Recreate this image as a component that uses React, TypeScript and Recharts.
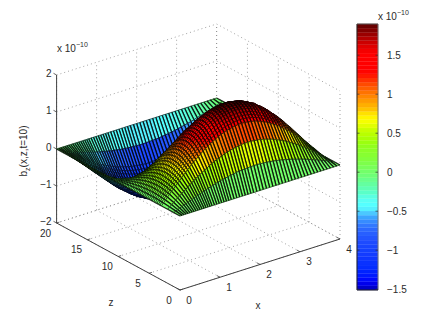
import { ComposedChart, Line, XAxis, YAxis, Scatter, ReferenceArea, ReferenceLine } from 'recharts';

// surface samples, b_z in units of 1e-10 = zPeak[j] * xProfile[i]
const xValues = [0, 0.05, 0.1, 0.15, 0.2, 0.25, 0.3, 0.35, 0.4, 0.45, 0.5, 0.55, 0.6, 0.65, 0.7, 0.75, 0.8, 0.86, 0.92, 0.98, 1.04, 1.1, 1.16, 1.22, 1.28, 1.35, 1.42, 1.49, 1.56, 1.63, 1.7, 1.77, 1.84, 1.92, 2, 2.08, 2.16, 2.24, 2.32, 2.4, 2.48, 2.56, 2.64, 2.72, 2.8, 2.88, 2.96, 3.04, 3.12, 3.2, 3.28, 3.36, 3.44, 3.52, 3.6, 3.68, 3.76, 3.84, 3.92, 4];
const xProfile = [0, 0.04, 0.08, 0.12, 0.16, 0.2, 0.23, 0.27, 0.31, 0.34, 0.38, 0.42, 0.45, 0.49, 0.52, 0.56, 0.59, 0.62, 0.66, 0.69, 0.73, 0.76, 0.79, 0.82, 0.84, 0.87, 0.9, 0.92, 0.94, 0.96, 0.97, 0.98, 0.99, 1, 1, 1, 0.99, 0.98, 0.97, 0.95, 0.93, 0.9, 0.88, 0.84, 0.81, 0.77, 0.73, 0.68, 0.64, 0.59, 0.54, 0.48, 0.43, 0.37, 0.31, 0.25, 0.19, 0.13, 0.06, 0];
const zValues = [0, 1, 2, 3, 3.25, 3.5, 3.75, 4, 4.25, 4.5, 4.75, 5, 5.25, 5.5, 5.75, 6, 6.25, 6.5, 6.75, 7, 7.25, 7.5, 7.75, 8, 8.25, 8.5, 8.75, 9, 9.25, 9.5, 9.75, 10, 10.25, 10.5, 10.75, 11, 11.25, 11.5, 11.75, 12, 12.25, 12.5, 12.75, 13, 13.25, 13.5, 13.75, 14, 14.25, 14.5, 14.75, 15, 15.25, 15.5, 15.75, 16, 16.25, 16.5, 16.75, 17, 17.25, 17.5, 17.75, 18, 19, 20];
const zPeak = [0, 0.58, 1.12, 1.54, 1.62, 1.68, 1.74, 1.8, 1.84, 1.87, 1.89, 1.9, 1.89, 1.87, 1.84, 1.8, 1.74, 1.68, 1.62, 1.54, 1.45, 1.34, 1.24, 1.12, 0.99, 0.86, 0.73, 0.58, 0.44, 0.3, 0.15, 0, -0.12, -0.24, -0.35, -0.46, -0.57, -0.68, -0.78, -0.88, -0.97, -1.05, -1.14, -1.21, -1.27, -1.33, -1.38, -1.42, -1.45, -1.48, -1.49, -1.5, -1.49, -1.48, -1.45, -1.42, -1.38, -1.33, -1.27, -1.21, -1.14, -1.05, -0.97, -0.88, -0.46, 0];

const xTicks = [0, 1, 2, 3, 4];
const zTicks = [0, 5, 10, 15, 20];
const bTicks = [-2, -1, 0, 1, 2];
const barTicks = [-1.5, -1, -0.5, 0, 0.5, 1, 1.5];
const colorMin = -1.51;
const colorMax = 1.9;

// 64 levels of the colour bar, bottom to top
const levels = [
  '#0000c8', '#0000eb', '#000aff', '#0019ff', '#0023ff', '#052dff', '#0a32ff', '#0f37ff',
  '#143cff', '#1441ff', '#1946ff', '#1e4bff', '#2355ff', '#285fff', '#2d69ff', '#3278ff',
  '#378cff', '#3ca5ff', '#4bc8ff', '#55f0ff', '#55ffff', '#5afff5', '#5affe1', '#5affc8',
  '#5fffb4', '#64ffa0', '#69ff8c', '#6eff78', '#73ff69', '#78ff5a', '#7dff4b', '#82ff3c',
  '#87ff32', '#8cff28', '#91ff1e', '#9bff0f', '#aaff05', '#b9ff00', '#c8ff00', '#e1ff00',
  '#f5ff00', '#fff500', '#ffe100', '#ffc300', '#ffaf00', '#ff9b00', '#ff8700', '#ff7300',
  '#ff5f00', '#ff4b00', '#ff3200', '#ff1900', '#ff0500', '#ff0000', '#ff0000', '#ff0000',
  '#ff0000', '#f50000', '#e10000', '#cd0000', '#b40000', '#9b0000', '#820000', '#690000',
];

const FONT = '"Liberation Sans", Arial, sans-serif';
const TEXT = '#2b2b2b';

// view of the MATLAB axes box on the page
function project(x: number, z: number, b: number) {
  return {
    u: 180 + 40 * x - 6.17 * z,
    v: 290 - 12.75 * x - 3.35 * z - 37 * (b + 2),
  };
}

function colorOf(b: number) {
  const k = Math.floor(((b - colorMin) / (colorMax - colorMin)) * levels.length);
  return levels[Math.max(0, Math.min(levels.length - 1, k))];
}

// far corner first so nearer facets paint over it
const zBack = [...zValues.keys()].reverse();
const xBack = [...xValues.keys()].reverse();
const mesh = zBack.flatMap((j) =>
  xBack.map((i) => ({ ...project(xValues[i], zValues[j], zPeak[j] * xProfile[i]), b: zPeak[j] * xProfile[i] })),
);
const nx = xValues.length;
const nz = zValues.length;

function renderFacet(p: any) {
  const { index, points } = p;
  const col = index % nx;
  const row = Math.floor(index / nx);
  if (col === nx - 1 || row === nz - 1 || !points) return <g key={index} />;
  const a = points[index];
  const b = points[index + 1];
  const c = points[index + nx + 1];
  const d = points[index + nx];
  // flat shading takes the colour of the lowest x, z corner
  const fill = colorOf(mesh[index + nx + 1].b);
  return (
    <g key={index} fill="none" stroke="#000" strokeOpacity={0.82}>
      <polygon points={`${a.x},${a.y} ${b.x},${b.y} ${c.x},${c.y} ${d.x},${d.y}`} fill={fill} stroke={fill} strokeOpacity={1} strokeWidth={0.3} />
      <path d={`M${a.x},${a.y}L${d.x},${d.y}M${b.x},${b.y}L${c.x},${c.y}`} strokeWidth={1.3} />
      <path d={`M${a.x},${a.y}L${b.x},${b.y}M${c.x},${c.y}L${d.x},${d.y}`} strokeWidth={0.7} />
    </g>
  );
}

type P3 = [number, number, number];
const seg = (a: P3, b: P3) => [project(...a), project(...b)];

const grid = [
  ...xTicks.flatMap((x) => [seg([x, 0, -2], [x, 20, -2]), seg([x, 20, -2], [x, 20, 2])]),
  ...zTicks.flatMap((z) => [seg([0, z, -2], [4, z, -2]), seg([4, z, -2], [4, z, 2])]),
  ...bTicks.flatMap((b) => [seg([0, 20, b], [4, 20, b]), seg([4, 20, b], [4, 0, b])]),
];

const axes = [seg([0, 0, -2], [4, 0, -2]), seg([0, 0, -2], [0, 20, -2]), seg([0, 20, -2], [0, 20, 2])];
const tickMarks = [
  ...xTicks.map((x) => seg([x, 0, -2], [x, 0.5, -2])),
  ...zTicks.map((z) => seg([0, z, -2], [0.07, z, -2])),
  ...bTicks.map((b) => seg([0, 20, b], [0, 20.5, b])),
];

const minus = (n: number) => String(n).replace('-', '\u2212');

const xLabels = xTicks.map((x) => ({ ...project(x, 0, -2), text: String(x), dx: 9, dy: 10, anchor: 'middle' }));
const zLabels = zTicks.map((z) => ({ ...project(0, z, -2), text: String(z), dx: -11, dy: 10, anchor: 'middle' }));
const bLabels = bTicks.map((b) => ({ ...project(0, 20, b), text: minus(b), dx: -5, dy: -2, anchor: 'end' }));
const titles = [{ ...project(0.6, 0, -2), text: 'x', dx: 54, dy: 23, anchor: 'middle' }];

const barRows = barTicks.map((v) => ({ p: 0.5, v }));

function TickText(p: any) {
  const { cx, cy, payload } = p;
  return (
    <text x={cx + payload.dx} y={cy + payload.dy} dy="0.36em" textAnchor={payload.anchor} fontFamily={FONT} fontSize={10} fill={TEXT}>
      {payload.text}
    </text>
  );
}

function Power({ x, y }: { x: number; y: number }) {
  return (
    <text x={x} y={y} fontFamily={FONT} fontSize={10} fill={TEXT}>
      x 10
      <tspan dy={-5} fontSize={7}>{'\u221210'}</tspan>
    </text>
  );
}

export default function App() {
  return (
    <div style={{ position: 'absolute', left: 0, top: 0, width: 436, height: 327, background: '#fff' }}>
      <div style={{ position: 'absolute', left: 0, top: 0 }}>
        <ComposedChart width={436} height={327} margin={{ top: 0, right: 0, bottom: 0, left: 0 }}>
          <XAxis hide type="number" dataKey="u" domain={[0, 436]} />
          <YAxis hide type="number" domain={[0, 327]} reversed />
          {grid.map((d, i) => (
            <Line key={`g${i}`} data={d} dataKey="v" stroke="#8c8c8c" strokeWidth={0.8} strokeDasharray="1 3" dot={false} activeDot={false} isAnimationActive={false} />
          ))}
          <Line data={mesh} dataKey="v" stroke="none" dot={renderFacet} activeDot={false} isAnimationActive={false} />
          {axes.map((d, i) => (
            <Line key={`a${i}`} data={d} dataKey="v" stroke="#404040" strokeWidth={1} dot={false} activeDot={false} isAnimationActive={false} />
          ))}
          {tickMarks.map((d, i) => (
            <Line key={`t${i}`} data={d} dataKey="v" stroke="#404040" strokeWidth={0.8} dot={false} activeDot={false} isAnimationActive={false} />
          ))}
          <Scatter data={[...xLabels, ...zLabels, ...bLabels, ...titles]} dataKey="v" shape={TickText} isAnimationActive={false} />
        </ComposedChart>
      </div>
      <div style={{ position: 'absolute', left: 0, top: 0 }}>
        <ComposedChart width={436} height={327} data={barRows} margin={{ top: 24, right: 0, bottom: 37, left: 357 }}>
          <XAxis hide type="number" dataKey="p" domain={[0, 1]} />
          <YAxis
            orientation="right"
            type="number"
            domain={[colorMin, colorMax]}
            ticks={barTicks}
            width={58}
            axisLine={false}
            tickLine={false}
            tickMargin={3}
            tickFormatter={minus}
            tick={{ fontSize: 10, fontFamily: FONT, fill: TEXT }}
            interval={0}
          />
          <Line dataKey="v" stroke="none" dot={false} activeDot={false} isAnimationActive={false} />
          {levels.map((c, k) => (
            <ReferenceArea
              key={k}
              x1={0}
              x2={1}
              y1={colorMin + (k * (colorMax - colorMin)) / levels.length}
              y2={colorMin + ((k + 1) * (colorMax - colorMin)) / levels.length}
              fill={c}
              fillOpacity={1}
              stroke={c}
              strokeWidth={0.3}
            />
          ))}
          <ReferenceLine x={0} stroke="#222" />
          <ReferenceLine x={1} stroke="#777" />
          <ReferenceLine y={colorMax} stroke="#555" />
          <ReferenceLine y={colorMin} stroke="#222" />
          {barTicks.flatMap((v) => [
            <ReferenceLine key={`l${v}`} segment={[{ x: 0, y: v }, { x: 0.12, y: v }]} stroke="#333" strokeOpacity={0.7} />,
            <ReferenceLine key={`r${v}`} segment={[{ x: 0.88, y: v }, { x: 1, y: v }]} stroke="#333" strokeOpacity={0.7} />,
          ])}
        </ComposedChart>
      </div>
      <svg width={436} height={327} style={{ position: 'absolute', left: 0, top: 0 }}>
        <Power x={57} y={52} />
        <Power x={378} y={20} />
        <text x={111} y={306} textAnchor="middle" fontFamily={FONT} fontSize={10} fill={TEXT}>z</text>
        <text transform="translate(27,151) rotate(-90)" textAnchor="middle" fontFamily={FONT} fontSize={10} fill={TEXT}>
          b<tspan dy={3} fontSize={7}>z</tspan><tspan dy={-3}>(x,z,t=10)</tspan>
        </text>
      </svg>
    </div>
  );
}
